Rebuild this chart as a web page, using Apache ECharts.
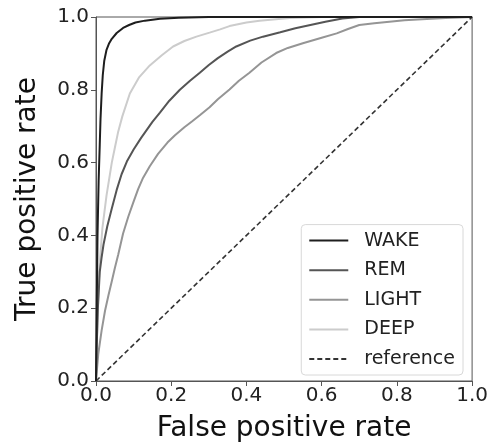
<!DOCTYPE html>
<html>
<head>
<meta charset="utf-8">
<script src="https://cdn.jsdelivr.net/npm/echarts@6/dist/echarts.min.js"></script>
<style>html,body{margin:0;padding:0;background:#fff}#c{width:491px;height:448px}</style>
</head>
<body>
<div id="c"></div>
<script>
const seriesNames = ['WAKE', 'REM', 'LIGHT', 'DEEP', 'reference'];
const xTicks = [0, 0.2, 0.4, 0.6, 0.8, 1.0];
const yTicks = [0, 0.2, 0.4, 0.6, 0.8, 1.0];

const wakeRoc = [[0,0],[0.002,0.2],[0.004,0.4],[0.007,0.55],[0.010,0.65],[0.012,0.72],[0.015,0.79],[0.018,0.84],[0.022,0.88],[0.028,0.91],[0.035,0.928],[0.042,0.94],[0.055,0.956],[0.072,0.970],[0.088,0.978],[0.105,0.985],[0.13,0.99],[0.17,0.995],[0.22,0.998],[0.3,1],[1,1]];
const remRoc = [[0,0],[0.002,0.1],[0.005,0.2],[0.01,0.3],[0.015,0.34],[0.02,0.375],[0.03,0.425],[0.042,0.474],[0.055,0.525],[0.068,0.568],[0.082,0.603],[0.1,0.636],[0.12,0.668],[0.135,0.69],[0.15,0.712],[0.17,0.737],[0.195,0.77],[0.223,0.80],[0.25,0.825],[0.276,0.847],[0.3,0.868],[0.324,0.887],[0.35,0.905],[0.373,0.919],[0.41,0.935],[0.444,0.946],[0.49,0.958],[0.53,0.969],[0.57,0.978],[0.61,0.987],[0.655,0.996],[0.7,1],[1,1]];
const lightRoc = [[0,0],[0.006,0.074],[0.015,0.139],[0.024,0.193],[0.033,0.235],[0.042,0.274],[0.05,0.31],[0.059,0.347],[0.072,0.405],[0.086,0.452],[0.099,0.49],[0.112,0.527],[0.125,0.558],[0.143,0.59],[0.165,0.624],[0.19,0.655],[0.21,0.675],[0.235,0.697],[0.255,0.713],[0.276,0.73],[0.302,0.752],[0.324,0.774],[0.355,0.801],[0.38,0.825],[0.408,0.847],[0.44,0.875],[0.479,0.901],[0.51,0.915],[0.55,0.928],[0.6,0.943],[0.64,0.955],[0.67,0.967],[0.70,0.978],[0.74,0.983],[0.78,0.987],[0.82,0.991],[0.867,0.994],[0.93,0.997],[1,1]];
const deepRoc = [[0,0],[0.002,0.1],[0.005,0.2],[0.008,0.28],[0.011,0.338],[0.017,0.42],[0.028,0.51],[0.042,0.60],[0.05,0.64],[0.059,0.685],[0.07,0.727],[0.09,0.79],[0.115,0.835],[0.143,0.867],[0.175,0.895],[0.205,0.919],[0.235,0.934],[0.267,0.946],[0.302,0.957],[0.33,0.966],[0.355,0.975],[0.4,0.985],[0.435,0.99],[0.515,0.997],[0.6,1],[1,1]];
const referenceLine = [[0,0],[1,1]];

const colors = ['#1e1e1e', '#555555', '#959595', '#cccccc', '#333333'];
const dataSets = [wakeRoc, remRoc, lightRoc, deepRoc, referenceLine];
const FONT = 'DejaVu Sans';

const chart = echarts.init(document.getElementById('c'), null, {renderer: 'canvas'});
const series = seriesNames.map((n, i) => ({
  name: n,
  type: 'line',
  data: dataSets[i],
  showSymbol: false,
  symbol: 'none',
  smooth: false,
  animation: false,
  z: i === 4 ? 1 : 5 - i,
  lineStyle: {color: colors[i], width: i === 4 ? 1.6 : 2, type: i === 4 ? [5, 3] : 'solid'},
  itemStyle: {color: colors[i]}
}));

chart.setOption({
  animation: false,
  grid: {left: 96, top: 17, right: 18, bottom: 64, show: true, borderColor: '#555', borderWidth: 1, backgroundColor: 'transparent'},
  xAxis: {
    type: 'value', min: 0, max: 1, interval: 0.2,
    name: 'False positive rate', nameLocation: 'middle', nameGap: 34,
    nameTextStyle: {fontFamily: FONT, fontSize: 28, color: '#111'},
    axisLine: {show: true, lineStyle: {color: '#555', width: 1}},
    axisTick: {show: true, length: 5, lineStyle: {color: '#555'}},
    axisLabel: {fontFamily: FONT, fontSize: 20, color: '#222', margin: 5, formatter: v => v.toFixed(1)},
    splitLine: {show: false}
  },
  yAxis: {
    type: 'value', min: 0, max: 1, interval: 0.2,
    name: 'True positive rate', nameLocation: 'middle', nameGap: 54, nameRotate: 90,
    nameTextStyle: {fontFamily: FONT, fontSize: 28, color: '#111'},
    axisLine: {show: true, lineStyle: {color: '#555', width: 1}},
    axisTick: {show: true, length: 5, lineStyle: {color: '#555'}},
    axisLabel: {fontFamily: FONT, fontSize: 20, color: '#222', margin: 7, formatter: v => v.toFixed(1)},
    splitLine: {show: false}
  },
  legend: {
    data: seriesNames,
    orient: 'vertical',
    right: 28, bottom: 73,
    padding: [6, 8, 6, 7],
    itemWidth: 39, itemHeight: 14, itemGap: 9.6,
    backgroundColor: '#fff',
    borderColor: '#d8d8d8', borderWidth: 1, borderRadius: 4,
    itemStyle: {opacity: 0},
    textStyle: {fontFamily: FONT, fontSize: 19, color: '#222', lineHeight: 20, padding: [0, 0, 0, 11]}
  },
  series: series
});
</script>
</body>
</html>
